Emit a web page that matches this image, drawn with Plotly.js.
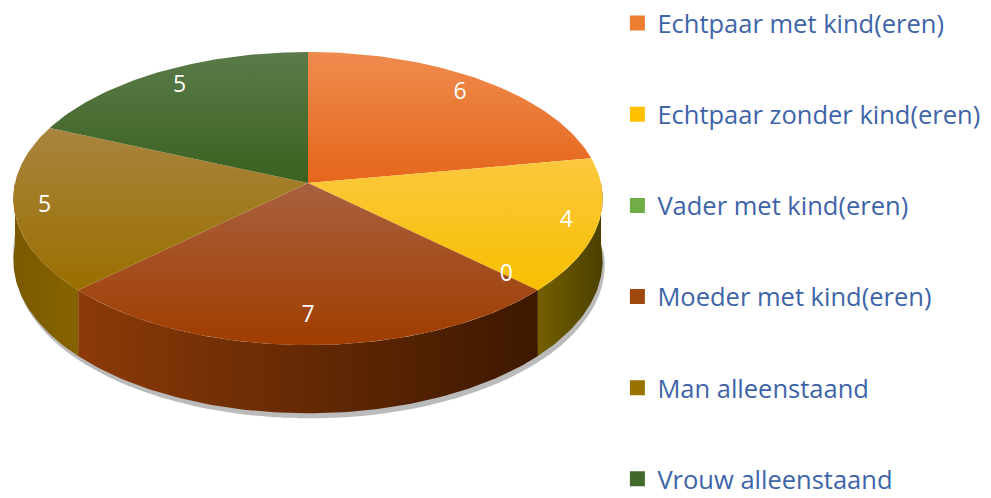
<!DOCTYPE html>
<html>
<head>
<meta charset="utf-8">
<script src="https://cdn.plot.ly/plotly-3.0.1.min.js"></script>
<style>html,body{margin:0;padding:0;background:#fff;}#chart{width:991px;height:498px;}</style>
</head>
<body>
<div id="chart"></div>
<script>
// ---- data ----
const categories = ["Echtpaar met kind(eren)", "Echtpaar zonder kind(eren)", "Vader met kind(eren)", "Moeder met kind(eren)", "Man alleenstaand", "Vrouw alleenstaand"];
const values = [6, 4, 0, 7, 5, 5];
const valueLabels = ["6", "4", "0", "7", "5", "5"];

// ---- styles ----
const legendColors = ["#ED7D31", "#FFC000", "#70AD47", "#9E480E", "#997300", "#43682B"];
const faceTop     = ["#EF8B4E", "#FCC83E", "#7FBA55", "#A9603F", "#A8843E", "#5B7B4A"];
const faceBottom  = ["#E5661B", "#F7BF00", "#62A13A", "#A03D00", "#9A6F00", "#3A611F"];
const wallLeft    = ["#B05010", "#746000", "#4E7A30", "#8C3A08", "#7A5A00", "#2F4A1E"];
const wallRight   = ["#7A3508", "#4A3F00", "#33521F", "#3D1800", "#866300", "#22361A"];

const W = 991, H = 498;
const cx = 308, cy = 183, A = 293, B = 144.9, K = 0.106, D = 61;
function proj(th, r) {
  const u = Math.sin(th) * r, v = Math.cos(th) * r;
  const d = 1 + K * v;
  return [cx + A * u / d, cy - B * v / d, d];
}
const total = values.reduce((s, v) => s + v, 0);
const deg = Math.PI / 180;

const traces = [];
let start = 0;
const spans = values.map(v => { const s = start; start += v / total * 2 * Math.PI; return [s, start]; });

// shadow under the front wall
(function () {
  const xs = [], ys = [];
  for (let t = 90; t <= 270; t += 2) { const p = proj(t * deg, 1); xs.push(p[0] + 2); ys.push(H - (p[1] + D / p[2] + 5)); }
  for (let t = 270; t >= 90; t -= 2) { const p = proj(t * deg, 1); xs.push(p[0]); ys.push(H - (p[1] + D / p[2] - 10)); }
  traces.push({type: "scatter", x: xs, y: ys, mode: "lines", fill: "toself", fillcolor: "rgba(60,60,60,0.35)",
    line: {width: 0, color: "rgba(0,0,0,0)", shape: "spline", smoothing: 0.6}, hoverinfo: "skip", showlegend: false});
})();

// side walls
spans.forEach((sp, i) => {
  if (values[i] === 0) return;
  const a = Math.max(sp[0], 90 * deg), b = Math.min(sp[1], 270 * deg);
  if (b <= a) return;
  const xs = [], ys = [];
  const n = Math.max(2, Math.ceil((b - a) / deg));
  for (let k = 0; k <= n; k++) { const p = proj(a + (b - a) * k / n, 1); xs.push(p[0]); ys.push(H - p[1]); }
  for (let k = n; k >= 0; k--) { const p = proj(a + (b - a) * k / n, 1); xs.push(p[0]); ys.push(H - (p[1] + D / p[2])); }
  traces.push({type: "scatter", x: xs, y: ys, mode: "lines", fill: "toself",
    fillgradient: {type: "horizontal", colorscale: [[0, wallLeft[i]], [1, wallRight[i]]]},
    line: {width: 0, color: "rgba(0,0,0,0)"}, hoverinfo: "skip", showlegend: false});
});

// top faces
spans.forEach((sp, i) => {
  if (values[i] === 0) return;
  const xs = [cx], ys = [H - cy];
  const n = Math.max(2, Math.ceil((sp[1] - sp[0]) / deg));
  for (let k = 0; k <= n; k++) { const p = proj(sp[0] + (sp[1] - sp[0]) * k / n, 1); xs.push(p[0]); ys.push(H - p[1]); }
  xs.push(cx); ys.push(H - cy);
  traces.push({type: "scatter", x: xs, y: ys, mode: "lines", fill: "toself",
    fillgradient: {type: "vertical", colorscale: [[0, faceBottom[i]], [1, faceTop[i]]]},
    line: {width: 0, color: "rgba(0,0,0,0)"}, hoverinfo: "skip", showlegend: false});
});

// data labels
(function () {
  const xs = [], ys = [];
  spans.forEach(sp => {
    const m = (sp[0] + sp[1]) / 2;
    const r = 0.84 + 0.06 * Math.pow(Math.sin(m), 2);
    const p = proj(m, r);
    xs.push(p[0]); ys.push(H - p[1]);
  });
  traces.push({type: "scatter", x: xs, y: ys, mode: "text", text: valueLabels,
    textfont: {family: "Open Sans, sans-serif", size: 23, color: "#FFFFFF"}, hoverinfo: "skip", showlegend: false});
})();

// legend entries
categories.forEach((c, i) => {
  traces.push({type: "scatter", x: [null], y: [null], mode: "markers", name: c, legendgroup: "g" + i,
    marker: {symbol: "square", size: 15, color: legendColors[i]}, hoverinfo: "skip"});
});

const layout = {
  width: W, height: H,
  margin: {l: 0, r: 0, t: 0, b: 0},
  paper_bgcolor: "#FFFFFF", plot_bgcolor: "#FFFFFF",
  xaxis: {range: [0, W], visible: false, fixedrange: true},
  yaxis: {range: [0, H], visible: false, fixedrange: true},
  showlegend: true,
  legend: {x: 0.623, y: 1.0, xanchor: "left", yanchor: "top", traceorder: "grouped", tracegroupgap: 55,
    font: {family: "Open Sans, sans-serif", size: 25.5, color: "#3E64A8"}, bgcolor: "rgba(0,0,0,0)"},
  hovermode: false
};
Plotly.newPlot("chart", traces, layout, {displayModeBar: false, staticPlot: true});
</script>
</body>
</html>
